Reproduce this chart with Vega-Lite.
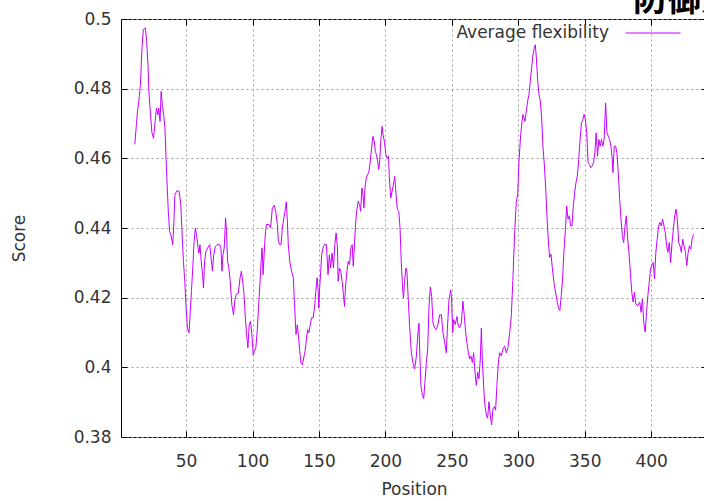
{
  "$schema": "https://vega.github.io/schema/vega-lite/v6.json",
  "width": 586,
  "height": 418,
  "autosize": {"type": "none"},
  "padding": {"left": 121, "top": 19, "right": 0, "bottom": 64},
  "background": "white",
  "title": {"text": "防御素", "orient": "top", "anchor": "start", "frame": "group", "dx": 512, "dy": 40, "offset": 0, "baseline": "alphabetic", "fontSize": 34, "fontWeight": "bold", "font": "Noto Sans CJK SC", "color": "#000"},
  "config": {
    "view": {"stroke": "#000", "strokeWidth": 1},
    "font": "DejaVu Sans",
    "axis": {"labelFont": "DejaVu Sans", "titleFont": "DejaVu Sans", "labelFontSize": 17, "titleFontSize": 17, "titleFontWeight": "normal", "labelColor": "#333", "titleColor": "#333", "tickColor": "#000", "tickSize": -6, "domain": false, "gridColor": "#a0a0a0", "gridDash": [2, 3], "gridWidth": 1}
  },
  "datasets": {
    "flex": [
      {"position": 11.4, "score": 0.464}, {"position": 12.6, "score": 0.4697}, {"position": 13.4, "score": 0.4735}, {"position": 14.4, "score": 0.4764}, {"position": 15.6, "score": 0.481}, {"position": 16.8, "score": 0.4917}, {"position": 17.8, "score": 0.497}, {"position": 19.3, "score": 0.4974}, {"position": 20.3, "score": 0.4936}, {"position": 21.3, "score": 0.4869}, {"position": 22, "score": 0.4792}, {"position": 23.2, "score": 0.4725}, {"position": 24.3, "score": 0.4673}, {"position": 25.5, "score": 0.4658}, {"position": 26.7, "score": 0.4706}, {"position": 27.7, "score": 0.4744}, {"position": 28.7, "score": 0.4725}, {"position": 29.4, "score": 0.4744}, {"position": 30.4, "score": 0.4706}, {"position": 31.2, "score": 0.4792}, {"position": 32.1, "score": 0.4754}, {"position": 33.1, "score": 0.4725}, {"position": 34.1, "score": 0.4687}, {"position": 34.9, "score": 0.46}, {"position": 35.6, "score": 0.4534}, {"position": 36.6, "score": 0.4448}, {"position": 37.6, "score": 0.439}, {"position": 38.6, "score": 0.438}, {"position": 39.9, "score": 0.4352}, {"position": 40.6, "score": 0.44}, {"position": 41.6, "score": 0.4496}, {"position": 43.1, "score": 0.4507}, {"position": 44.8, "score": 0.4505}, {"position": 46, "score": 0.4467}, {"position": 47, "score": 0.438}, {"position": 48, "score": 0.4304}, {"position": 49, "score": 0.4247}, {"position": 50, "score": 0.417}, {"position": 51, "score": 0.4113}, {"position": 52.2, "score": 0.4099}, {"position": 53, "score": 0.415}, {"position": 54, "score": 0.4218}, {"position": 55, "score": 0.4285}, {"position": 56, "score": 0.4362}, {"position": 57, "score": 0.44}, {"position": 58, "score": 0.4376}, {"position": 59, "score": 0.4343}, {"position": 59.7, "score": 0.4328}, {"position": 60.4, "score": 0.4352}, {"position": 61.4, "score": 0.4304}, {"position": 62.4, "score": 0.4266}, {"position": 63.1, "score": 0.4228}, {"position": 63.9, "score": 0.4304}, {"position": 64.9, "score": 0.4333}, {"position": 66.3, "score": 0.4343}, {"position": 67.8, "score": 0.4352}, {"position": 68.8, "score": 0.4314}, {"position": 69.8, "score": 0.4276}, {"position": 70.8, "score": 0.4323}, {"position": 72, "score": 0.4347}, {"position": 73.3, "score": 0.4352}, {"position": 75.2, "score": 0.4352}, {"position": 76.2, "score": 0.4343}, {"position": 77, "score": 0.4276}, {"position": 77.7, "score": 0.4323}, {"position": 78.7, "score": 0.4343}, {"position": 79.7, "score": 0.4429}, {"position": 80.4, "score": 0.439}, {"position": 81.2, "score": 0.4304}, {"position": 82.2, "score": 0.4285}, {"position": 83.2, "score": 0.4247}, {"position": 84.4, "score": 0.418}, {"position": 85.7, "score": 0.4151}, {"position": 86.6, "score": 0.419}, {"position": 87.6, "score": 0.4209}, {"position": 89.3, "score": 0.4213}, {"position": 90.6, "score": 0.4257}, {"position": 91.6, "score": 0.4276}, {"position": 92.6, "score": 0.4247}, {"position": 93.6, "score": 0.4209}, {"position": 94.6, "score": 0.4142}, {"position": 95.5, "score": 0.4094}, {"position": 96.5, "score": 0.4056}, {"position": 97.5, "score": 0.4122}, {"position": 98.5, "score": 0.4132}, {"position": 99.5, "score": 0.4094}, {"position": 100.5, "score": 0.4036}, {"position": 101.5, "score": 0.4046}, {"position": 102.5, "score": 0.4056}, {"position": 103.5, "score": 0.4104}, {"position": 104.5, "score": 0.417}, {"position": 105.4, "score": 0.4228}, {"position": 106.4, "score": 0.4304}, {"position": 107.2, "score": 0.4343}, {"position": 107.9, "score": 0.4266}, {"position": 108.7, "score": 0.4323}, {"position": 109.4, "score": 0.4371}, {"position": 110.4, "score": 0.441},
      {"position": 112.4, "score": 0.441}, {"position": 113.6, "score": 0.44}, {"position": 114.9, "score": 0.4457}, {"position": 116.2, "score": 0.4465}, {"position": 117.4, "score": 0.4448}, {"position": 118.7, "score": 0.441}, {"position": 119.4, "score": 0.4362}, {"position": 120.4, "score": 0.4352}, {"position": 121.4, "score": 0.4352}, {"position": 122.4, "score": 0.44}, {"position": 123.6, "score": 0.4429}, {"position": 124.4, "score": 0.4448}, {"position": 125.4, "score": 0.4475}, {"position": 126.2, "score": 0.442}, {"position": 126.9, "score": 0.4352}, {"position": 128, "score": 0.4304}, {"position": 129.4, "score": 0.4276}, {"position": 130.7, "score": 0.4257}, {"position": 131.7, "score": 0.417}, {"position": 132.7, "score": 0.4094}, {"position": 133.7, "score": 0.4122}, {"position": 134.5, "score": 0.4094}, {"position": 135.5, "score": 0.4046}, {"position": 136.5, "score": 0.4012}, {"position": 137.5, "score": 0.4007}, {"position": 138.5, "score": 0.4027}, {"position": 139.5, "score": 0.4046}, {"position": 140.5, "score": 0.4079}, {"position": 141.4, "score": 0.4108}, {"position": 142.4, "score": 0.4099}, {"position": 143.4, "score": 0.4122}, {"position": 144.4, "score": 0.4142}, {"position": 145.6, "score": 0.4142}, {"position": 146.6, "score": 0.417}, {"position": 147.6, "score": 0.4218}, {"position": 148.6, "score": 0.4257}, {"position": 149.4, "score": 0.4218}, {"position": 149.9, "score": 0.417}, {"position": 150.5, "score": 0.4228}, {"position": 151.3, "score": 0.4276}, {"position": 152, "score": 0.4323}, {"position": 153, "score": 0.4343}, {"position": 154.3, "score": 0.4354}, {"position": 155.6, "score": 0.4352}, {"position": 156.8, "score": 0.4266}, {"position": 157.8, "score": 0.4323}, {"position": 158.8, "score": 0.4285}, {"position": 159.8, "score": 0.4328}, {"position": 160.9, "score": 0.4285}, {"position": 161.9, "score": 0.4352}, {"position": 162.9, "score": 0.4386}, {"position": 163.9, "score": 0.4343}, {"position": 164.4, "score": 0.4247}, {"position": 165.4, "score": 0.4285}, {"position": 166.4, "score": 0.4276}, {"position": 167.4, "score": 0.4247}, {"position": 168.4, "score": 0.4209}, {"position": 169.2, "score": 0.4175}, {"position": 169.9, "score": 0.4228}, {"position": 171, "score": 0.4276}, {"position": 172, "score": 0.4304}, {"position": 173, "score": 0.4295}, {"position": 174, "score": 0.4343}, {"position": 175, "score": 0.4352}, {"position": 175.8, "score": 0.429}, {"position": 176.8, "score": 0.4362}, {"position": 177.5, "score": 0.441}, {"position": 178.3, "score": 0.4448}, {"position": 179.5, "score": 0.4477}, {"position": 180.6, "score": 0.4467}, {"position": 181.3, "score": 0.4448}, {"position": 182.3, "score": 0.4515}, {"position": 183.1, "score": 0.4496}, {"position": 183.8, "score": 0.4457}, {"position": 184.6, "score": 0.4515}, {"position": 185.6, "score": 0.4544}, {"position": 186.6, "score": 0.4553}, {"position": 187.6, "score": 0.4563}, {"position": 188.6, "score": 0.4592}, {"position": 189.6, "score": 0.463}, {"position": 190.6, "score": 0.4663}, {"position": 191.6, "score": 0.4649}, {"position": 192.4, "score": 0.462}, {"position": 193.2, "score": 0.4611}, {"position": 194.2, "score": 0.4592}, {"position": 194.9, "score": 0.4568}, {"position": 195.7, "score": 0.4592}, {"position": 196.5, "score": 0.4649}, {"position": 197.5, "score": 0.4692}, {"position": 198.2, "score": 0.4668}, {"position": 199.2, "score": 0.4649}, {"position": 200.3, "score": 0.4611}, {"position": 201.3, "score": 0.4601}, {"position": 202.3, "score": 0.4606}, {"position": 203, "score": 0.4544}, {"position": 204, "score": 0.4486}, {"position": 205, "score": 0.4505}, {"position": 206, "score": 0.4525}, {"position": 207, "score": 0.4548}, {"position": 208, "score": 0.4496}, {"position": 209, "score": 0.4453}, {"position": 210, "score": 0.4448}, {"position": 211, "score": 0.44}, {"position": 211.9, "score": 0.4304}, {"position": 212.9, "score": 0.4228}, {"position": 213.6, "score": 0.4199}, {"position": 214.4, "score": 0.4247}, {"position": 215.4, "score": 0.4285}, {"position": 216.2, "score": 0.4276}, {"position": 216.9, "score": 0.4218},
      {"position": 218.2, "score": 0.4118}, {"position": 219.5, "score": 0.4042}, {"position": 220.7, "score": 0.4014}, {"position": 222.0, "score": 0.3995}, {"position": 223.3, "score": 0.4033}, {"position": 224.3, "score": 0.409}, {"position": 225.2, "score": 0.4127}, {"position": 226.0, "score": 0.4024}, {"position": 226.7, "score": 0.3948}, {"position": 227.8, "score": 0.392}, {"position": 228.8, "score": 0.391}, {"position": 229.8, "score": 0.3962}, {"position": 230.8, "score": 0.4014}, {"position": 231.8, "score": 0.4052}, {"position": 232.8, "score": 0.4175}, {"position": 233.8, "score": 0.4231}, {"position": 234.8, "score": 0.4203}, {"position": 235.8, "score": 0.4127}, {"position": 237.0, "score": 0.4113}, {"position": 238.3, "score": 0.4108}, {"position": 239.5, "score": 0.4123}, {"position": 240.8, "score": 0.4151}, {"position": 242.1, "score": 0.4151}, {"position": 243.3, "score": 0.4099}, {"position": 244.6, "score": 0.4071}, {"position": 245.8, "score": 0.4042}, {"position": 246.6, "score": 0.4108}, {"position": 247.8, "score": 0.4193}, {"position": 249.1, "score": 0.4222}, {"position": 249.8, "score": 0.4193}, {"position": 250.6, "score": 0.4099}, {"position": 251.3, "score": 0.4137}, {"position": 252.6, "score": 0.4123}, {"position": 253.8, "score": 0.4146}, {"position": 254.9, "score": 0.4118}, {"position": 255.8, "score": 0.4113}, {"position": 257.1, "score": 0.4127}, {"position": 258.3, "score": 0.419}, {"position": 259.4, "score": 0.4146}, {"position": 260.4, "score": 0.4099}, {"position": 261.3, "score": 0.4071}, {"position": 262.4, "score": 0.4042}, {"position": 263.4, "score": 0.4024}, {"position": 264.3, "score": 0.4033}, {"position": 265.4, "score": 0.4014}, {"position": 266.4, "score": 0.4042}, {"position": 267.4, "score": 0.3986}, {"position": 268.4, "score": 0.3948}, {"position": 269.4, "score": 0.3986}, {"position": 270.4, "score": 0.3967}, {"position": 271.4, "score": 0.4024}, {"position": 272.2, "score": 0.4113}, {"position": 272.9, "score": 0.4024}, {"position": 273.9, "score": 0.3948}, {"position": 274.6, "score": 0.3901}, {"position": 275.9, "score": 0.3863}, {"position": 276.9, "score": 0.3854}, {"position": 277.9, "score": 0.3901}, {"position": 278.9, "score": 0.3863}, {"position": 279.9, "score": 0.3835}, {"position": 280.9, "score": 0.388}, {"position": 281.9, "score": 0.3887}, {"position": 282.9, "score": 0.3877}, {"position": 283.9, "score": 0.3948}, {"position": 285.0, "score": 0.4014}, {"position": 285.9, "score": 0.4042}, {"position": 287.2, "score": 0.4033}, {"position": 288.4, "score": 0.4052}, {"position": 289.7, "score": 0.4061}, {"position": 291.0, "score": 0.4042}, {"position": 292.2, "score": 0.4057}, {"position": 293.5, "score": 0.4099}, {"position": 294.7, "score": 0.4146}, {"position": 295.9, "score": 0.425}, {"position": 297.2, "score": 0.4382}, {"position": 298.5, "score": 0.4476},
      {"position": 299.5, "score": 0.4496}, {"position": 300.5, "score": 0.4592}, {"position": 301.8, "score": 0.4668}, {"position": 302.8, "score": 0.4706}, {"position": 303.5, "score": 0.4726}, {"position": 304.3, "score": 0.4716}, {"position": 305, "score": 0.4706}, {"position": 306, "score": 0.4735}, {"position": 307, "score": 0.4764}, {"position": 308, "score": 0.4783}, {"position": 309, "score": 0.4821}, {"position": 310, "score": 0.4859}, {"position": 311, "score": 0.4897}, {"position": 312, "score": 0.4916}, {"position": 312.8, "score": 0.4926}, {"position": 313.6, "score": 0.4888}, {"position": 314.6, "score": 0.4821}, {"position": 315.6, "score": 0.4783}, {"position": 316.6, "score": 0.4764}, {"position": 317.6, "score": 0.4716}, {"position": 318.6, "score": 0.463}, {"position": 319.6, "score": 0.4582}, {"position": 320.6, "score": 0.4516}, {"position": 321.6, "score": 0.443}, {"position": 322.6, "score": 0.4363}, {"position": 323.6, "score": 0.4315}, {"position": 324.6, "score": 0.4325}, {"position": 325.6, "score": 0.4286},
      {"position": 326.8, "score": 0.4244}, {"position": 328, "score": 0.4216}, {"position": 329.3, "score": 0.4187}, {"position": 330.5, "score": 0.4168}, {"position": 331.3, "score": 0.4163}, {"position": 332.3, "score": 0.4206}, {"position": 333.3, "score": 0.4253}, {"position": 334.3, "score": 0.433}, {"position": 335.6, "score": 0.4406}, {"position": 336.4, "score": 0.4463}, {"position": 337.4, "score": 0.4425}, {"position": 338.4, "score": 0.4435}, {"position": 339.4, "score": 0.4406}, {"position": 340.4, "score": 0.4406}, {"position": 341.4, "score": 0.4463}, {"position": 342.4, "score": 0.4501}, {"position": 343.4, "score": 0.453}, {"position": 344.4, "score": 0.4549}, {"position": 345.5, "score": 0.4597}, {"position": 346.5, "score": 0.4654}, {"position": 347.5, "score": 0.4702}, {"position": 348.5, "score": 0.4711}, {"position": 349.5, "score": 0.4726}, {"position": 350.5, "score": 0.4711}, {"position": 351.5, "score": 0.4673}, {"position": 352.5, "score": 0.4587}, {"position": 353.5, "score": 0.4583}, {"position": 354.5, "score": 0.4573}, {"position": 355.6, "score": 0.4578}, {"position": 356.6, "score": 0.4587}, {"position": 357.6, "score": 0.4616}, {"position": 358.6, "score": 0.4673}, {"position": 359.6, "score": 0.4606}, {"position": 360.6, "score": 0.4654}, {"position": 361.6, "score": 0.4635}, {"position": 362.6, "score": 0.4654}, {"position": 363.6, "score": 0.4635}, {"position": 364.6, "score": 0.4654}, {"position": 365.7, "score": 0.4759}, {"position": 366.7, "score": 0.4673}, {"position": 367.7, "score": 0.4664}, {"position": 368.7, "score": 0.4654}, {"position": 369.7, "score": 0.4635}, {"position": 370.7, "score": 0.4597}, {"position": 371.2, "score": 0.4559}, {"position": 372.2, "score": 0.4635}, {"position": 373.2, "score": 0.4635}, {"position": 374.2, "score": 0.4616}, {"position": 375.2, "score": 0.4559}, {"position": 376.3, "score": 0.4482}, {"position": 377.3, "score": 0.4425}, {"position": 378.3, "score": 0.4378}, {"position": 379.3, "score": 0.4358}, {"position": 380.3, "score": 0.4406}, {"position": 381.3, "score": 0.4435}, {"position": 382.3, "score": 0.4368}, {"position": 383.3, "score": 0.433}, {"position": 384.3, "score": 0.4273}, {"position": 385.4, "score": 0.4216}, {"position": 386.4, "score": 0.4187}, {"position": 387.4, "score": 0.4216}, {"position": 388.4, "score": 0.4182}, {"position": 389.9, "score": 0.4177}, {"position": 391.4, "score": 0.4187}, {"position": 392.4, "score": 0.4158}, {"position": 393.4, "score": 0.4196}, {"position": 394.4, "score": 0.4129}, {"position": 395.5, "score": 0.4101}, {"position": 396.5, "score": 0.4158}, {"position": 397.5, "score": 0.4206}, {"position": 398.5, "score": 0.4244}, {"position": 399.5, "score": 0.4282}, {"position": 400.5, "score": 0.4292}, {"position": 401.5, "score": 0.4301}, {"position": 402.5, "score": 0.4254}, {"position": 403.5, "score": 0.433}, {"position": 404.5, "score": 0.4368}, {"position": 405.6, "score": 0.4406}, {"position": 406.6, "score": 0.4416}, {"position": 407.6, "score": 0.4406}, {"position": 408.6, "score": 0.4425}, {"position": 409.6, "score": 0.4406}, {"position": 410.6, "score": 0.4387}, {"position": 411.6, "score": 0.4349}, {"position": 412.6, "score": 0.433}, {"position": 413.6, "score": 0.4358}, {"position": 414.6, "score": 0.4301}, {"position": 415.7, "score": 0.4358}, {"position": 416.7, "score": 0.4397}, {"position": 417.7, "score": 0.4435}, {"position": 418.7, "score": 0.4454}, {"position": 419.7, "score": 0.4425}, {"position": 420.7, "score": 0.4358}, {"position": 421.7, "score": 0.4349}, {"position": 422.7, "score": 0.433}, {"position": 423.7, "score": 0.4368}, {"position": 424.7, "score": 0.4349}, {"position": 425.8, "score": 0.433}, {"position": 426.8, "score": 0.4292}, {"position": 427.8, "score": 0.433}, {"position": 428.8, "score": 0.4349}, {"position": 429.8, "score": 0.4339}, {"position": 430.8, "score": 0.4368}, {"position": 431.8, "score": 0.4382}
    ]
  },
  "data": {"name": "flex"},
  "layer": [
    {
      "mark": {"type": "line", "strokeWidth": 1, "interpolate": "linear"},
      "encoding": {
        "x": {"field": "position", "type": "quantitative", "scale": {"domain": [1, 442], "nice": false, "zero": false},
              "axis": {"orient": "bottom", "values": [50, 100, 150, 200, 250, 300, 350, 400], "grid": true, "title": "Position", "labelPadding": 22, "titlePadding": 12}},
        "y": {"field": "score", "type": "quantitative", "scale": {"domain": [0.38, 0.5], "nice": false, "zero": false},
              "axis": {"orient": "left", "values": [0.38, 0.4, 0.42, 0.44, 0.46, 0.48, 0.5], "format": "~g", "grid": true, "title": "Score", "labelPadding": 16, "titlePadding": 45, "titleY": 219}},
        "color": {"datum": "Average flexibility", "type": "nominal", "scale": {"range": ["#c800ff"]},
                  "legend": {"title": null, "orient": "none", "legendX": 504, "legendY": -14, "symbolType": "stroke", "symbolSize": 3025, "symbolStrokeWidth": 1, "labelAlign": "right", "labelOffset": -72, "labelFontSize": 17, "labelFont": "DejaVu Sans", "labelColor": "#333", "padding": 0}}
      }
    },
    {
      "mark": {"type": "line", "strokeOpacity": 0},
      "encoding": {
        "x": {"field": "position", "type": "quantitative", "axis": {"orient": "top", "values": [50, 100, 150, 200, 250, 300, 350, 400], "labels": false, "grid": false, "title": null}},
        "y": {"field": "score", "type": "quantitative", "axis": {"orient": "right", "values": [0.38, 0.4, 0.42, 0.44, 0.46, 0.48, 0.5], "labels": false, "grid": false, "title": null}}
      }
    }
  ]
}
